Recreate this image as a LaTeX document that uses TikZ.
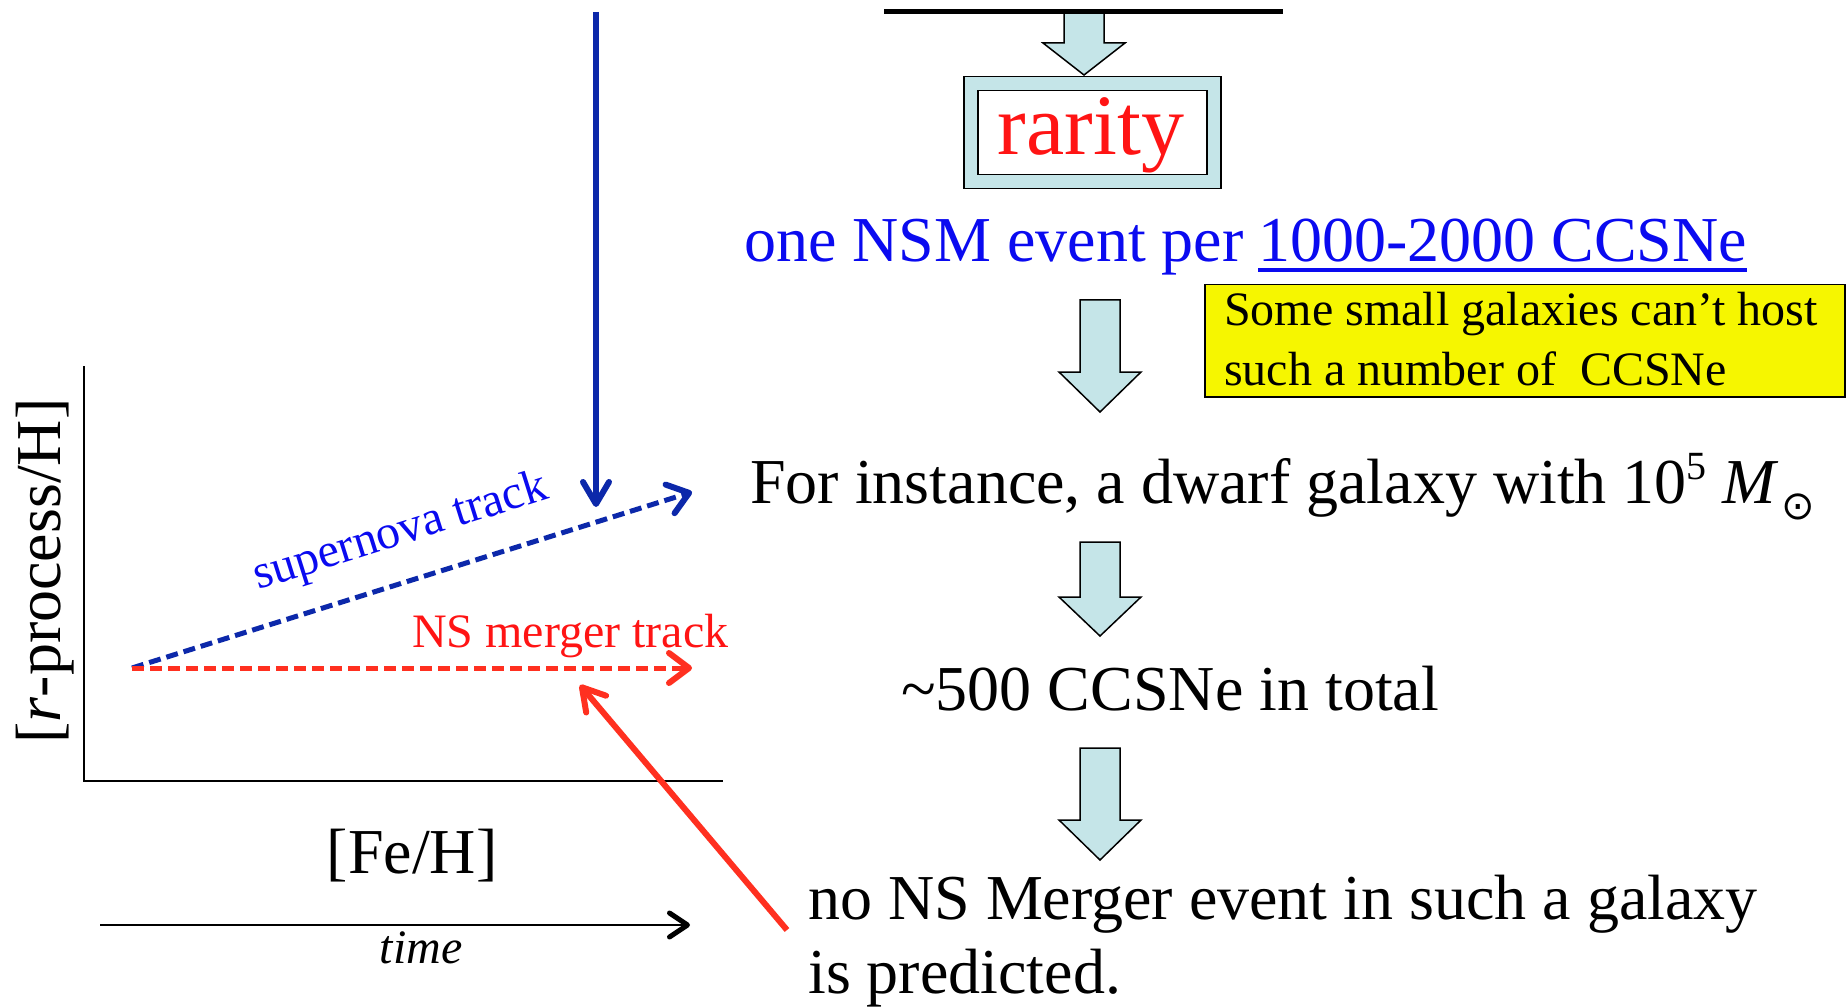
\documentclass[tikz,border=0pt]{standalone}
\usepackage{fontspec}
\setmainfont{Liberation Serif}
\newfontfamily\symbolfont{DejaVu Sans}
\usetikzlibrary{arrows.meta}
\definecolor{cyanfill}{RGB}{197,229,232}
\definecolor{noteyellow}{RGB}{246,246,0}
\definecolor{navyline}{RGB}{12,40,170}
\definecolor{textblue}{RGB}{10,10,240}
\definecolor{textred}{RGB}{255,20,20}
\definecolor{redline}{RGB}{255,48,32}
\newcommand\blockdown[4]{%
  \filldraw[blockarrow] (#1-20,#2) -- (#1+20,#2) -- (#1+20,#3) -- (#1+41,#3)
    -- (#1,#4) -- (#1-41,#3) -- (#1-20,#3) -- cycle;}
\begin{document}
\begin{tikzpicture}[x=1pt,y=-1pt,
  blockarrow/.style={fill=cyanfill,draw=black,line width=1.5pt,line join=miter},
  txt/.style={inner sep=0pt,anchor=base west,font=\fontsize{64}{74}\selectfont},
  smalltxt/.style={inner sep=0pt,anchor=base west,font=\fontsize{48}{58}\selectfont},
  axis/.style={line width=2pt,draw=black},
  track/.style={line width=5pt,dash pattern=on 12pt off 6pt,-{Straight Barb[length=20pt,width=30pt,line width=6pt,round]}},
  solidarrow/.style={line width=6pt,-{Straight Barb[length=22pt,width=26pt,line width=6pt,round]}}
]
\useasboundingbox (0,0) rectangle (1847,1008);
\fill[white] (0,0) rectangle (1847,1008);

% ---------- right column ----------
\blockdown{1084}{12}{43}{75}
\coordinate (barL) at (884,12);
\coordinate (barR) at (1283,12);
\draw[line width=5pt] (barL) -- (barR);

\node (rarbox) [draw=black,line width=1.5pt,fill=cyanfill,minimum width=257pt,minimum height=112pt,anchor=north west,inner sep=0pt] at (963,76) {};
\node (rarin) [draw=black,line width=1.5pt,fill=white,minimum width=229pt,minimum height=84pt,inner sep=0pt] at (rarbox.center) {};
\node (rarity) [inner sep=0pt,anchor=base,text=textred,font=\fontsize{86}{100}\selectfont] at (1091,155) {rarity};

\node (nsmA) [txt,text=textblue] at (744,262) {one NSM event per};
\node (nsmB) [txt,text=textblue] at (1258,262) {1000-2000 CCSNe};
\draw[textblue,line width=4.5pt] ([yshift=-8pt]nsmB.base west) -- ([yshift=-8pt]nsmB.base east);

\node (note) [draw=black,line width=1.5pt,fill=noteyellow,anchor=north west,minimum width=640pt,minimum height=112pt,inner sep=0pt] at (1204,284) {};
\node (noteA) [smalltxt] at (1224,326) {Some small galaxies can’t host};
\node (noteB) [smalltxt] at (1224,385) {such a number of\ \ CCSNe};

\blockdown{1100}{300}{372}{412}
\node (inst) [txt] at (750,503) {For instance, a dwarf galaxy with 10\raisebox{24pt}{\fontsize{40}{40}\selectfont 5} \textit{M}\kern2pt\raisebox{-16pt}{\symbolfont\fontsize{40}{40}\selectfont ⊙}};
\blockdown{1100}{542}{597}{636}
\node (total) [txt] at (901,710) {\textasciitilde500 CCSNe in total};
\blockdown{1100}{748}{820}{860}
\node (predA) [txt] at (808,919) {no NS Merger event in such a galaxy};
\node (predB) [txt] at (808,993) {is predicted.};

% ---------- left chart ----------
\coordinate (ytop) at (84,366);
\coordinate (origin) at (84,781);
\coordinate (xend) at (723,781);
\draw[axis] (ytop) -- (origin) -- (xend);
\node (ylab) [inner sep=0pt,rotate=90,font=\fontsize{64}{74}\selectfont] at (45,571) {[\textit{r}-process/H]};

\coordinate (start) at (132,668);
\coordinate (snend) at (692,492);
\coordinate (nsend) at (692,668);
\draw[track,navyline] (start) -- (snend);
\draw[track,redline] (start) -- (nsend);
\node (snlab) [inner sep=0pt,rotate=17.5,text=textblue,font=\fontsize{48}{58}\selectfont] at (401,533) {supernova track};
\node (nslab) [smalltxt,text=textred] at (412,647) {NS merger track};

\coordinate (bluetop) at (596,12);
\coordinate (bluetip) at (596,507);
\draw[solidarrow,navyline] (bluetop) -- (bluetip);

\coordinate (redstart) at (787,930);
\coordinate (redtip) at (580,685);
\draw[solidarrow,redline] (redstart) -- (redtip);

\node (feh) [inner sep=0pt,anchor=base,font=\fontsize{64}{74}\selectfont] at (412,873) {[Fe/H]};
\coordinate (timeL) at (100,925);
\coordinate (timeR) at (690,925);
\draw[line width=2.2pt,-{Straight Barb[length=18pt,width=24pt,line width=5pt,round]}] (timeL) -- (timeR);
\node (time) [inner sep=0pt,anchor=base,font=\fontsize{48}{58}\selectfont\itshape] at (421,963) {time};
\end{tikzpicture}
\end{document}
